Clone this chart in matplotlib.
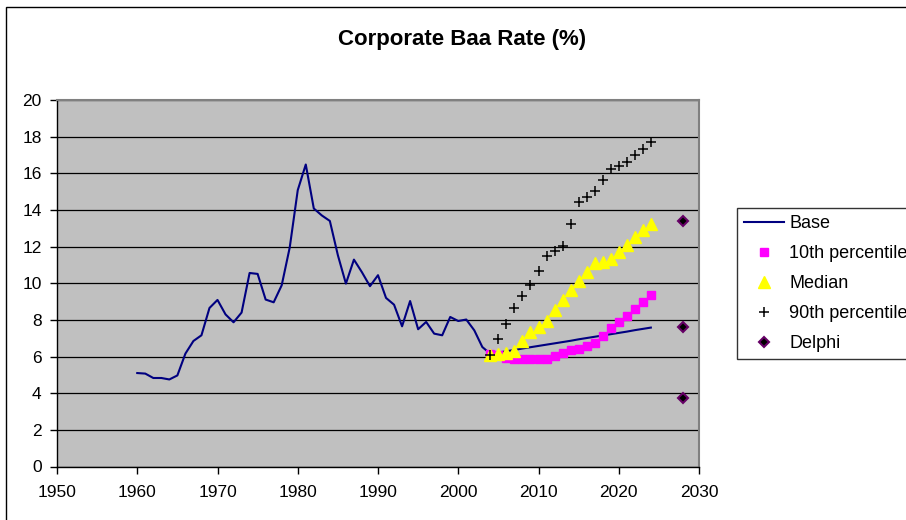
import matplotlib.pyplot as plt
from matplotlib.patches import Rectangle

plt.rcParams['font.family'] = ['Liberation Sans', 'DejaVu Sans']

# base series, historical + base forecast
base_years = list(range(1960, 2025))
base_vals = [5.1, 5.07, 4.83, 4.83, 4.75, 4.97, 6.16, 6.85, 7.16, 8.65,
             9.09, 8.3, 7.87, 8.4, 10.56, 10.51, 9.11, 8.96, 9.89, 11.95,
             15.08, 16.48, 14.08, 13.7, 13.4, 11.53, 9.98, 11.29, 10.6, 9.84,
             10.44, 9.2, 8.83, 7.65, 9.03, 7.49, 7.89, 7.25, 7.16, 8.16,
             7.94, 8.02, 7.43, 6.52, 6.15,
             6.22, 6.29, 6.36, 6.44, 6.51, 6.58, 6.65, 6.72, 6.79, 6.86,
             6.94, 7.01, 7.08, 7.15, 7.22, 7.29, 7.36, 7.44, 7.51, 7.58]

fc_years = list(range(2004, 2025))
p10 = [6.16, 6.07, 5.94, 5.88, 5.88, 5.88, 5.88, 5.88, 6.05, 6.19, 6.34,
       6.43, 6.58, 6.74, 7.12, 7.58, 7.91, 8.21, 8.6, 8.98, 9.38]
median = [6.07, 6.16, 6.21, 6.3, 6.85, 7.32, 7.61, 7.92, 8.52, 9.07, 9.62,
          10.15, 10.62, 11.11, 11.16, 11.35, 11.71, 12.09, 12.5, 12.88, 13.26]
p90 = [6.07, 6.94, 7.8, 8.65, 9.29, 9.91, 10.66, 11.51, 11.75, 12.06, 13.22,
       14.46, 14.7, 15.01, 15.63, 16.25, 16.41, 16.63, 17.01, 17.34, 17.72]

delphi_years = [2028, 2028, 2028]
delphi_vals = [13.4, 7.6, 3.75]

W, H = 906, 520
fig = plt.figure(figsize=(W / 100, H / 100), dpi=100)
fig.patches.append(Rectangle((6 / W, -0.1), 2, 1 - 7 / H + 0.1,
                             transform=fig.transFigure, fill=False,
                             edgecolor='black', lw=1))

ax = fig.add_axes([57 / W, 1 - 466.5 / H, (699 - 57) / W, (466.5 - 100) / H])
ax.set_facecolor('#C0C0C0')

ax.plot(base_years, base_vals, color='#000080', lw=1.5, label='Base', zorder=3)
ax.plot(fc_years, p10, ls='none', marker='s', ms=6, color='#FF00FF',
        mec='#FF00FF', label='10th percentile', zorder=4)
ax.plot(fc_years, median, ls='none', marker='^', ms=8, color='#FFFF00',
        mec='#FFFF00', label='Median', zorder=5)
ax.plot(fc_years, p90, ls='none', marker='+', ms=6.5, mew=1.1, color='black',
        label='90th percentile', zorder=6)
ax.plot(delphi_years, delphi_vals, ls='none', marker='D', ms=5, color='black',
        mec='#660066', mew=1.5, label='Delphi', zorder=7)

ax.set_xlim(1950, 2030)
ax.set_ylim(0, 20)
ax.set_xticks(range(1950, 2031, 10))
ax.set_yticks(range(0, 21, 2))
ax.yaxis.grid(True, color='black', lw=0.9)
ax.set_axisbelow(True)
ax.tick_params(labelsize=12.5, length=5, width=1, color='black')
ax.tick_params(axis='x', pad=8)
ax.tick_params(axis='y', pad=6)
for s in ['top', 'right']:
    ax.spines[s].set_color('#808080')
    ax.spines[s].set_linewidth(1.5)
for s in ['left', 'bottom']:
    ax.spines[s].set_color('black')
    ax.spines[s].set_linewidth(1)

fig.text(462 / W, 1 - 40 / H, 'Corporate Baa Rate (%)', ha='center',
         va='center', fontsize=16, fontweight='bold')

leg = fig.legend(loc='upper left', bbox_to_anchor=(737 / W, 1 - 208 / H),
                 fontsize=13, frameon=True, fancybox=False, handlelength=2.2,
                 handletextpad=0.3, borderpad=0.4, labelspacing=0.72,
                 borderaxespad=0)
leg.get_frame().set_edgecolor('black')
leg.get_frame().set_linewidth(1)

fig.savefig('out.png', dpi=100)
